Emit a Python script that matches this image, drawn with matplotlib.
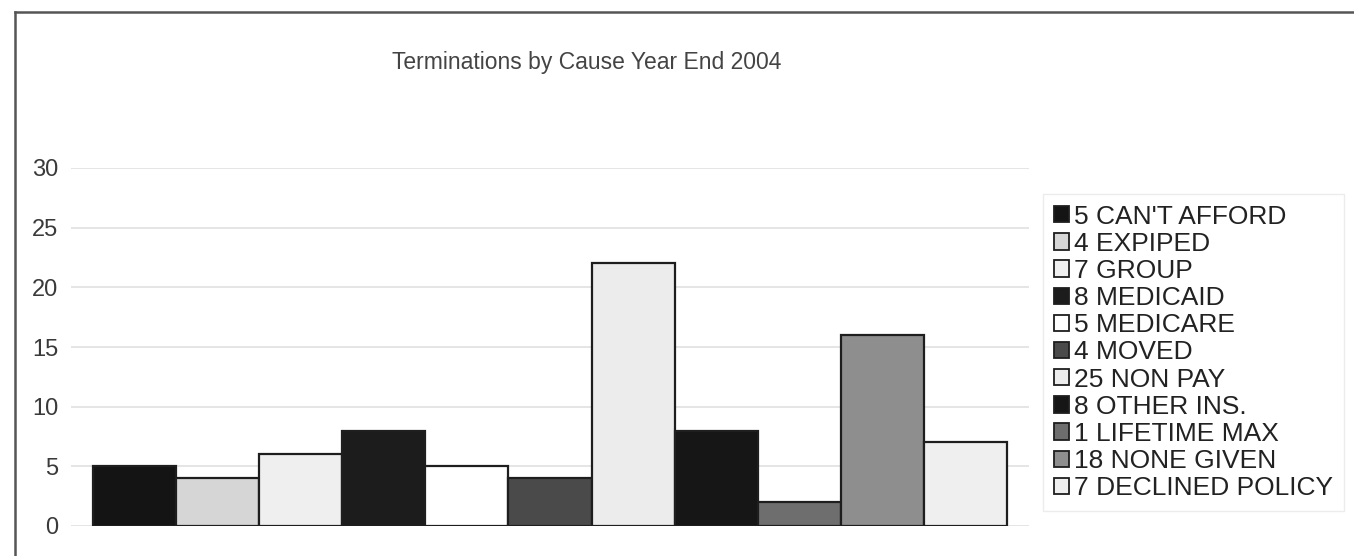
import matplotlib
matplotlib.use("Agg")
import matplotlib.pyplot as plt
from matplotlib.patches import Patch
from matplotlib.lines import Line2D

plt.rcParams['font.family'] = ['Liberation Sans', 'DejaVu Sans']

title = "Terminations by Cause Year End 2004"
categories = ["5 CAN'T AFFORD", "4 EXPIPED", "7 GROUP", "8 MEDICAID", "5 MEDICARE",
              "4 MOVED", "25 NON PAY", "8 OTHER INS.", "1 LIFETIME MAX",
              "18 NONE GIVEN", "7 DECLINED POLICY"]
values = [5, 4, 6, 8, 5, 4, 22, 8, 2, 16, 7]
fills = ["#141414", "#d6d6d6", "#efefef", "#1c1c1c", "#ffffff", "#4a4a4a",
         "#ececec", "#161616", "#6e6e6e", "#8e8e8e", "#efefef"]
yticks = [0, 5, 10, 15, 20, 25, 30]

W, H = 1354, 556
fig = plt.figure(figsize=(W / 100, H / 100), dpi=100)
ax = fig.add_axes([71 / W, (H - 526) / H, (1029 - 71) / W, (526 - 168) / H])

x = list(range(len(values)))
ax.bar(x, values, width=1.0, color=fills, edgecolor="#1e1e1e", linewidth=1.6, zorder=3)

ax.set_xlim(-0.765, len(values) - 1 + 0.765)
ax.set_ylim(0, 30)
ax.set_yticks(yticks)
ax.set_xticks([])
ax.tick_params(axis='y', length=0, pad=9, labelsize=17, labelcolor="#3a3a3a")
ax.yaxis.grid(True, color="#e0e0e0", linewidth=1.2, zorder=0)
for s in ax.spines.values():
    s.set_visible(False)

fig.text(587 / W, 1 - 63 / H, title, ha='center', va='center',
         fontsize=16.5, color="#444444")

handles = [Patch(facecolor=c, edgecolor="#1e1e1e", linewidth=1.3) for c in fills]
leg = fig.legend(handles, categories, loc='upper left',
                 bbox_to_anchor=(1043 / W, 1 - 194 / H),
                 fontsize=19, frameon=True, fancybox=False,
                 handlelength=0.58, handleheight=0.58, handletextpad=0.2,
                 labelspacing=0.12, borderpad=0.4, borderaxespad=0)
leg.get_frame().set_edgecolor("#e8e8e8")
leg.get_frame().set_linewidth(1.0)
for t in leg.get_texts():
    t.set_color("#222222")

# outer frame of the chart area
fig.add_artist(Line2D([15 / W, 15 / W], [0, 1 - 12 / H], transform=fig.transFigure,
                      color="#555555", linewidth=1.8))
fig.add_artist(Line2D([15 / W, 1], [1 - 12 / H, 1 - 12 / H], transform=fig.transFigure,
                      color="#555555", linewidth=1.8))

fig.savefig("out.png", dpi=100, facecolor="white")
